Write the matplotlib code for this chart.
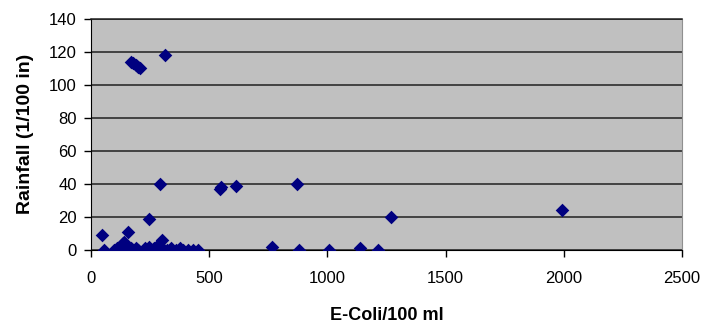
import numpy as np
import matplotlib
matplotlib.use("Agg")
import matplotlib.pyplot as plt

plt.rcParams['font.family'] = ['Liberation Sans', 'DejaVu Sans']

# E-Coli counts (per 100 ml) and rainfall (1/100 in) for each sample
ecoli = [48, 55, 100, 110, 118, 125, 130, 135, 140, 145, 150, 155, 160, 170, 180, 190, 200,
         230, 245, 255, 265, 275, 285, 300, 320, 340, 360, 375, 390, 410, 430, 455,
         158, 247, 292, 299, 545, 550, 614, 871, 1271, 1994,
         768, 878, 1006, 1137, 1213,
         170, 180, 190, 200, 210, 313]
rain = [9, 0, 0, 1, 0, 2, 3, 4, 5, 2, 0, 1, 0, 1, 0, 1, 0,
        1, 2, 0, 1, 2, 0, 1, 0, 1, 0, 1, 0, 0, 0, 0,
        11, 19, 40, 6, 37, 38, 39, 40, 20, 24,
        2, 0, 0, 1, 0,
        114, 113, 112, 111, 110, 118]

xticks = [0, 500, 1000, 1500, 2000, 2500]
yticks = [0, 20, 40, 60, 80, 100, 120, 140]

fig = plt.figure(figsize=(7.04, 3.26), dpi=100)
ax = fig.add_axes([0.129, 0.233, 0.840, 0.710])
ax.set_facecolor('#c0c0c0')

ax.scatter(ecoli, rain, marker='D', s=48, color='#000080', zorder=3, linewidths=0)

ax.set_xlim(0, 2500)
ax.set_ylim(0, 140)
ax.set_xticks(xticks)
ax.set_yticks(yticks)
ax.yaxis.grid(True, color='#202020', linewidth=1.1, zorder=1)
ax.set_axisbelow(True)

ax.spines['top'].set_color('#202020')
ax.spines['top'].set_linewidth(1.1)
ax.spines['right'].set_color('#909090')
ax.spines['left'].set_color('black')
ax.spines['bottom'].set_color('black')
ax.tick_params(direction='out', length=5, width=1, labelsize=12)
ax.tick_params(axis='x', pad=10)
ax.tick_params(axis='y', pad=5)

ax.set_xlabel('E-Coli/100 ml', fontsize=13, fontweight='bold', labelpad=15)
ax.set_ylabel('Rainfall (1/100 in)', fontsize=14, fontweight='bold', labelpad=11)

fig.savefig('out.png', dpi=100)
